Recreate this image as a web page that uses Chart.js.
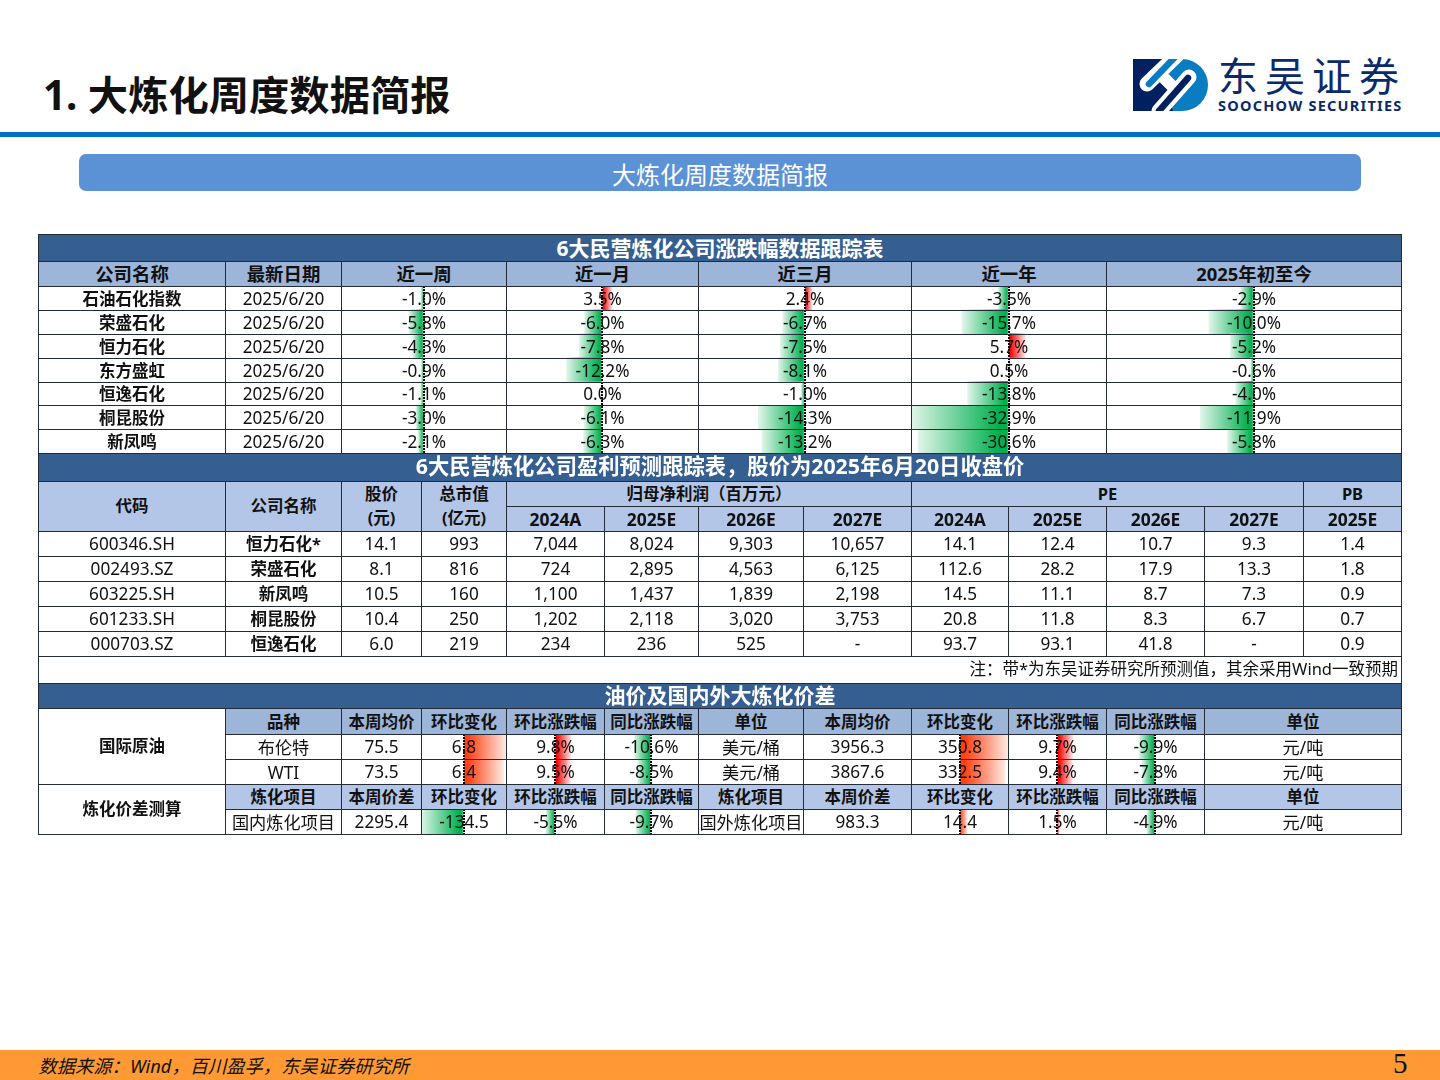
<!DOCTYPE html>
<html lang="zh">
<head>
<meta charset="utf-8">
<title>大炼化周度数据简报</title>
<script src="https://cdn.jsdelivr.net/npm/chart.js@4"></script>
<style>
  html, body { margin: 0; padding: 0; background: #fff; }
  body { width: 1440px; height: 1080px; position: relative; overflow: hidden; font-family: "Noto Sans", "Noto Sans CJK SC", sans-serif; color: #111; }
  .abs { position: absolute; }
  .cell { position: absolute; box-sizing: border-box; border: 1px solid #232b38; display: flex; align-items: center; justify-content: center; text-align: center; font-size: 17.2px; white-space: pre-line; z-index: 3; line-height: 24px; }
  .name { font-weight: 700; font-size: 16.5px; }
  .title { background: #365f91; color: #fff; font-weight: 700; font-size: 21px; }
  .title.wide { font-size: 21.3px; }
  .lift { padding-bottom: 3px; }
  .head1 { background: #9db5d8; font-weight: 700; font-size: 18.4px; }
  .head2 { background: #b4c6e7; font-weight: 700; font-size: 16.5px; }
  .head3 { background: #9db5d8; font-weight: 700; font-size: 16.5px; }
  .year { font-size: 17.4px; }
  .note { justify-content: flex-end; padding: 0 3px 2px 0; font-size: 16.5px; }
  .cjk { padding-top: 2px; }
  .up1 { padding-bottom: 2px; }
  canvas.bar { position: absolute; z-index: 2; }
</style>
</head>
<body>
<div class="abs" style="left:43px;top:65px;font-size:40.3px;font-weight:700;line-height:60px;white-space:nowrap">1. 大炼化周度数据简报</div>
<div class="abs" style="left:0;top:132px;width:1440px;height:5px;background:#0070c0"></div>
<div class="abs" style="left:79px;top:154px;width:1282px;height:37px;background:#5b92d6;border-radius:7px;color:#fff;font-size:24px;line-height:41px;text-align:center">大炼化周度数据简报</div>

<svg class="abs" style="left:1133px;top:59px" width="75" height="52" viewBox="0 0 75 52">
  <path d="M0 0H35L40 52H0Z" fill="#002060"/>
  <path d="M35 0H49A26 26 0 0 1 49 52H40Z" fill="#0a7cc2"/>
  <path d="M44 -4L14 25" fill="none" stroke="#fff" stroke-width="15" stroke-linecap="round"/>
  <path d="M56 18L26 52" fill="none" stroke="#fff" stroke-width="15" stroke-linecap="round"/>
  <path d="M30 18L44 32" fill="none" stroke="#fff" stroke-width="12"/>
  <path d="M44 -4L16 25" fill="none" stroke="#0a7cc2" stroke-width="6.5" stroke-linecap="round"/>
  <path d="M55 19L26 52" fill="none" stroke="#002060" stroke-width="6.5" stroke-linecap="round"/>
</svg>
<div class="abs" style="left:1218px;top:57px;font-size:40px;line-height:38px;letter-spacing:7px;color:#0b2a6a;white-space:nowrap">东吴证券</div>
<div class="abs" style="left:1218px;top:97px;font-size:14.5px;line-height:17px;font-weight:700;color:#0b2a6a;letter-spacing:1.25px;white-space:nowrap">SOOCHOW SECURITIES</div>

<div class="abs" style="left:0;top:1050px;width:1440px;height:30px;background:#ff9933"></div>
<div class="abs" style="left:38.5px;top:1051px;font-size:18.3px;font-style:italic;line-height:29px;white-space:nowrap">数据来源：Wind，百川盈孚，东吴证券研究所</div>
<div class="abs" style="left:1393px;top:1049px;font-family:'Liberation Serif',serif;font-size:29px;line-height:29px">5</div>

<script>
  // ---------------- Data: price change table ----------------
  const changeHeaders = ["公司名称", "最新日期", "近一周", "近一月", "近三月", "近一年", "2025年初至今"];
  const companies = ["石油石化指数", "荣盛石化", "恒力石化", "东方盛虹", "恒逸石化", "桐昆股份", "新凤鸣"];
  const latestDate = "2025/6/20";
  const weekChg = [-1.0, -5.8, -4.3, -0.9, -1.1, -3.0, -2.1];
  const monthChg = [3.5, -6.0, -7.8, -12.2, 0.0, -6.1, -6.3];
  const quarterChg = [2.4, -6.7, -7.5, -8.1, -1.0, -14.3, -13.2];
  const yearChg = [-3.5, -15.7, 5.7, 0.5, -13.8, -32.9, -30.6];
  const ytdChg = [-2.9, -10.0, -5.2, -0.6, -4.0, -11.9, -5.8];

  // ---------------- Data: forecast table ----------------
  const codes = ["600346.SH", "002493.SZ", "603225.SH", "601233.SH", "000703.SZ"];
  const forecastNames = ["恒力石化*", "荣盛石化", "新凤鸣", "桐昆股份", "恒逸石化"];
  const prices = ["14.1", "8.1", "10.5", "10.4", "6.0"];
  const marketCaps = ["993", "816", "160", "250", "219"];
  const profit2024A = ["7,044", "724", "1,100", "1,202", "234"];
  const profit2025E = ["8,024", "2,895", "1,437", "2,118", "236"];
  const profit2026E = ["9,303", "4,563", "1,839", "3,020", "525"];
  const profit2027E = ["10,657", "6,125", "2,198", "3,753", "-"];
  const pe2024A = ["14.1", "112.6", "14.5", "20.8", "93.7"];
  const pe2025E = ["12.4", "28.2", "11.1", "11.8", "93.1"];
  const pe2026E = ["10.7", "17.9", "8.7", "8.3", "41.8"];
  const pe2027E = ["9.3", "13.3", "7.3", "6.7", "-"];
  const pb2025E = ["1.4", "1.8", "0.9", "0.7", "0.9"];
  const forecastYears = ["2024A", "2025E", "2026E", "2027E"];

  // ---------------- Data: oil and spread table ----------------
  const oilNames = ["布伦特", "WTI"];
  const oilUsd = ["75.5", "73.5"];
  const oilUsdChg = [6.8, 6.4];
  const oilUsdMom = [9.8, 9.5];
  const oilUsdYoy = [-10.6, -8.5];
  const oilCny = ["3956.3", "3867.6"];
  const oilCnyChg = [350.8, 332.5];
  const oilCnyMom = [9.7, 9.4];
  const oilCnyYoy = [-9.9, -7.8];
  const spreadNames = ["国内炼化项目", "国外炼化项目"];
  const spreadValues = ["2295.4", "983.3"];
  const spreadChg = [-134.5, 14.4];
  const spreadMom = [-5.5, 1.5];
  const spreadYoy = [-9.7, -4.9];

  // column edges, px
  const topX = [38, 225, 341, 506, 698, 911, 1106, 1401];
  const midX = [38, 225, 341, 421, 506, 604, 698, 803, 911, 1008, 1106, 1204, 1303, 1401];
  const botX = [38, 225, 341, 421, 506, 604, 698, 803, 911, 1008, 1106, 1204, 1401];
  const topY = [286, 310, 334, 358, 382, 405, 429, 453];
  const midY = [531, 556, 581, 606, 631, 656];

  const pct = (v) => v.toFixed(1) + "%";
  const num = (v) => v.toFixed(1);

  function cell(x0, y0, x1, y1, text, cls = "") {
    const el = document.createElement("div");
    el.className = "cell " + cls;
    el.style.left = x0 + "px";
    el.style.top = y0 + "px";
    el.style.width = x1 - x0 + 1 + "px";
    el.style.height = y1 - y0 + 1 + "px";
    el.textContent = text;
    document.body.appendChild(el);
  }

  // ---------------- Data bars ----------------
  const BAR_COLORS = {
    up: ["#ff0000", "#ffe6e6"],
    down: ["#00b050", "#e0f5e9"],
    hot: ["#ff3f0f", "#ffeae4"],
  };

  function barChart(x0, x1, y0, y1, labels, values, range, upKind = "up") {
    const canvas = document.createElement("canvas");
    canvas.className = "bar";
    canvas.width = x1 - x0;
    canvas.height = y1 - y0;
    canvas.style.left = x0 + "px";
    canvas.style.top = y0 + "px";
    document.body.appendChild(canvas);

    new Chart(canvas, {
      type: "bar",
      data: {
        labels,
        datasets: [{
          data: values,
          barPercentage: 1,
          categoryPercentage: 1,
          backgroundColor: (ctx) => {
            const chart = ctx.chart;
            const v = ctx.raw;
            if (v === undefined || !chart.scales.x) return "transparent";
            const from = chart.scales.x.getPixelForValue(0);
            const to = chart.scales.x.getPixelForValue(v);
            if (!isFinite(from) || !isFinite(to) || from === to) return "transparent";
            const [c0, c1] = BAR_COLORS[v < 0 ? "down" : upKind];
            const g = chart.ctx.createLinearGradient(from, 0, to, 0);
            g.addColorStop(0, c0);
            g.addColorStop(0.1, c0);
            g.addColorStop(1, c1);
            return g;
          },
        }],
      },
      options: {
        indexAxis: "y",
        responsive: false,
        animation: false,
        layout: { padding: 0 },
        plugins: { legend: { display: false }, tooltip: { enabled: false } },
        scales: {
          x: {
            type: "linear",
            min: -range,
            max: range,
            afterBuildTicks: (s) => { s.ticks = [{ value: 0 }]; },
            ticks: { display: false },
            border: { display: false, dash: [2, 1] },
            grid: { color: "#000", lineWidth: 2, drawTicks: false, z: 1 },
          },
          y: { type: "category", display: false },
        },
      },
    });
  }

  // ---------------- Table 1 ----------------
  cell(38, 234, 1401, 261, "6大民营炼化公司涨跌幅数据跟踪表", "title");
  changeHeaders.forEach((h, i) => cell(topX[i], 261, topX[i + 1], 286, h, "head1"));
  const changeCols = [weekChg, monthChg, quarterChg, yearChg, ytdChg];
  companies.forEach((name, r) => {
    const y0 = topY[r], y1 = topY[r + 1];
    cell(topX[0], y0, topX[1], y1, name, "name");
    cell(topX[1], y0, topX[2], y1, latestDate);
    changeCols.forEach((col, c) => cell(topX[c + 2], y0, topX[c + 3], y1, pct(col[r])));
  });
  changeCols.forEach((col, c) => barChart(topX[c + 2], topX[c + 3], 286, 453, companies, col, 33));

  // ---------------- Table 2 ----------------
  cell(38, 453, 1401, 481, "6大民营炼化公司盈利预测跟踪表，股价为2025年6月20日收盘价", "title wide lift");
  cell(midX[0], 481, midX[1], 531, "代码", "head2 up1");
  cell(midX[1], 481, midX[2], 531, "公司名称", "head2 up1");
  cell(midX[2], 481, midX[3], 531, "股价\n(元)", "head2 up1");
  cell(midX[3], 481, midX[4], 531, "总市值\n(亿元)", "head2 up1");
  cell(midX[4], 481, midX[8], 506, "归母净利润（百万元）", "head2");
  cell(midX[8], 481, midX[12], 506, "PE", "head2");
  cell(midX[12], 481, midX[13], 506, "PB", "head2");
  forecastYears.forEach((y, i) => {
    cell(midX[4 + i], 506, midX[5 + i], 531, y, "head2 year");
    cell(midX[8 + i], 506, midX[9 + i], 531, y, "head2 year");
  });
  cell(midX[12], 506, midX[13], 531, "2025E", "head2 year");
  const forecastCols = [codes, forecastNames, prices, marketCaps, profit2024A, profit2025E, profit2026E, profit2027E, pe2024A, pe2025E, pe2026E, pe2027E, pb2025E];
  codes.forEach((_, r) => {
    forecastCols.forEach((col, c) => {
      cell(midX[c], midY[r], midX[c + 1], midY[r + 1], col[r], c === 1 ? "name" : "");
    });
  });
  cell(38, 656, 1401, 683, "注：带*为东吴证券研究所预测值，其余采用Wind一致预期", "note");

  // ---------------- Table 3 ----------------
  cell(38, 683, 1401, 708, "油价及国内外大炼化价差", "title lift");
  cell(botX[0], 708, botX[1], 784, "国际原油", "name up1");
  cell(botX[0], 784, botX[1], 834, "炼化价差测算", "name up1");
  const oilHeaders = ["品种", "本周均价", "环比变化", "环比涨跌幅", "同比涨跌幅", "单位", "本周均价", "环比变化", "环比涨跌幅", "同比涨跌幅", "单位"];
  const spreadHeaders = ["炼化项目", "本周价差", "环比变化", "环比涨跌幅", "同比涨跌幅", "炼化项目", "本周价差", "环比变化", "环比涨跌幅", "同比涨跌幅", "单位"];
  oilHeaders.forEach((h, i) => cell(botX[i + 1], 708, botX[i + 2], 734, h, "head3"));
  spreadHeaders.forEach((h, i) => cell(botX[i + 1], 784, botX[i + 2], 809, h, "head2"));

  const oilY = [734, 759, 784];
  oilNames.forEach((name, r) => {
    const row = [name, oilUsd[r], num(oilUsdChg[r]), pct(oilUsdMom[r]), pct(oilUsdYoy[r]), "美元/桶", oilCny[r], num(oilCnyChg[r]), pct(oilCnyMom[r]), pct(oilCnyYoy[r]), "元/吨"];
    row.forEach((t, i) => cell(botX[i + 1], oilY[r], botX[i + 2], oilY[r + 1], t, i === 0 || i === 5 || i === 10 ? "cjk" : ""));
  });
  const spreadRow = [spreadNames[0], spreadValues[0], num(spreadChg[0]), pct(spreadMom[0]), pct(spreadYoy[0]), spreadNames[1], spreadValues[1], num(spreadChg[1]), pct(spreadMom[1]), pct(spreadYoy[1]), "元/吨"];
  spreadRow.forEach((t, i) => cell(botX[i + 1], 809, botX[i + 2], 834, t, i === 0 || i === 5 || i === 10 ? "cjk" : ""));

  // oil rows
  barChart(botX[3], botX[4], 734, 784, oilNames, oilUsdChg, 6.8, "hot");
  barChart(botX[4], botX[5], 734, 784, oilNames, oilUsdMom, 30);
  barChart(botX[5], botX[6], 734, 784, oilNames, oilUsdYoy, 30);
  barChart(botX[8], botX[9], 734, 784, oilNames, oilCnyChg, 350.8, "hot");
  barChart(botX[9], botX[10], 734, 784, oilNames, oilCnyMom, 30);
  barChart(botX[10], botX[11], 734, 784, oilNames, oilCnyYoy, 30);
  // spread row
  barChart(botX[3], botX[4], 809, 834, ["国内"], [spreadChg[0]], 134.5);
  barChart(botX[4], botX[5], 809, 834, ["国内"], [spreadMom[0]], 30);
  barChart(botX[5], botX[6], 809, 834, ["国内"], [spreadYoy[0]], 30);
  barChart(botX[8], botX[9], 809, 834, ["国外"], [spreadChg[1]], 90, "hot");
  barChart(botX[9], botX[10], 809, 834, ["国外"], [spreadMom[1]], 30);
  barChart(botX[10], botX[11], 809, 834, ["国外"], [spreadYoy[1]], 30);
</script>
</body>
</html>
